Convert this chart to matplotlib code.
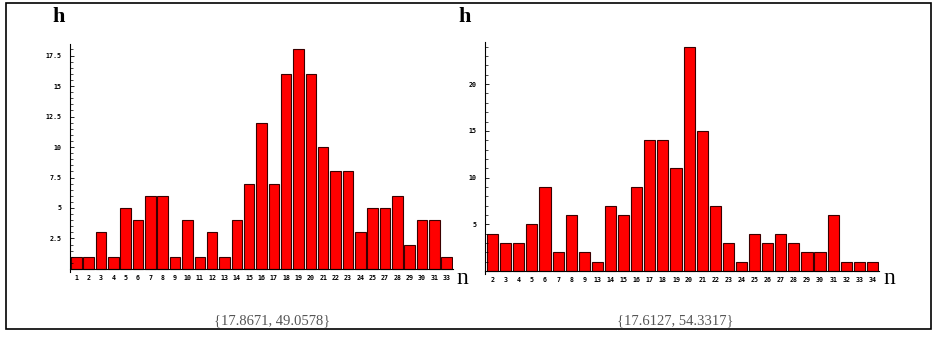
import numpy as np
import matplotlib.pyplot as plt
from matplotlib.ticker import MultipleLocator, FuncFormatter
from matplotlib.patches import Rectangle

# ------------------------------------------------------------
# data
# ------------------------------------------------------------
left_labels = [1, 2, 3, 4, 5, 6, 7, 8, 9, 10, 11, 12, 13, 14, 15, 16, 17,
               18, 19, 20, 21, 22, 23, 24, 25, 27, 28, 29, 30, 31, 33]
left_h = [1, 1, 3, 1, 5, 4, 6, 6, 1, 4, 1, 3, 1, 4, 7, 12, 7,
          16, 18, 16, 10, 8, 8, 3, 5, 5, 6, 2, 4, 4, 1]
left_caption = "{17.8671, 49.0578}"

right_labels = [2, 3, 4, 5, 6, 7, 8, 9, 13, 14, 15, 16, 17, 18, 19, 20, 21,
                22, 23, 24, 25, 26, 27, 28, 29, 30, 31, 32, 33, 34]
right_h = [4, 3, 3, 5, 9, 2, 6, 2, 1, 7, 6, 9, 14, 14, 11, 24, 15,
           7, 3, 1, 4, 3, 4, 3, 2, 2, 6, 1, 1, 1]
right_caption = "{17.6127, 54.3317}"

W, H = 937, 338
fig = plt.figure(figsize=(W / 100, H / 100), dpi=100)


def px(x0, y0, x1, y1):
    # pixel box (top-left origin) -> figure rect
    return [x0 / W, 1 - y1 / H, (x1 - x0) / W, (y1 - y0) / H]


def draw(rect, labels, h, xlim, ylim, major, minor):
    ax = fig.add_axes(rect)
    x = np.arange(len(h))
    ax.bar(x, h, width=0.85, color="#ff0000", edgecolor="#3a0000",
           linewidth=0.8)
    ax.set_xlim(*xlim)
    ax.set_ylim(*ylim)
    for s in ["top", "right"]:
        ax.spines[s].set_visible(False)
    ax.spines["bottom"].set_position(("data", 0))
    ax.spines["left"].set_linewidth(0.8)
    ax.spines["bottom"].set_linewidth(0.8)
    ax.set_xticks(x)
    ax.set_xticklabels([str(v) for v in labels])
    ax.tick_params(axis="x", length=0, pad=4)
    ax.yaxis.set_major_locator(MultipleLocator(major))
    ax.yaxis.set_minor_locator(MultipleLocator(minor))
    ax.yaxis.set_major_formatter(
        FuncFormatter(lambda v, p: "" if v <= 0 else "%g" % v))
    ax.tick_params(axis="y", which="major", direction="in", length=3,
                   width=0.6, pad=6)
    ax.tick_params(axis="y", which="minor", direction="in", length=1.8,
                   width=0.5)
    for t in ax.get_xticklabels() + ax.get_yticklabels():
        t.set_fontfamily("DejaVu Sans Mono")
        t.set_fontsize(4.8)
        t.set_fontweight("bold")
    ax.patch.set_alpha(0)
    return ax


draw(px(70, 44, 453, 272), left_labels, left_h,
     (-0.51, 30.51), (-0.25, 18.45), 2.5, 0.5)
draw(px(485, 42, 879, 274), right_labels, right_h,
     (-0.58, 29.5), (-0.3, 24.5), 5, 1)

serif = "Liberation Serif"
fig.text(59 / W, 1 - 17 / H, "h", ha="center", va="center",
         fontsize=16, fontweight="bold", family=serif)
fig.text(465 / W, 1 - 17 / H, "h", ha="center", va="center",
         fontsize=16, fontweight="bold", family=serif)
fig.text(462 / W, 1 - 279 / H, "n", ha="center", va="center",
         fontsize=17, family=serif)
fig.text(889 / W, 1 - 279 / H, "n", ha="center", va="center",
         fontsize=17, family=serif)
fig.text(272 / W, 1 - 321 / H, left_caption, ha="center", va="center",
         fontsize=10.5, family=serif, color="#555555")
fig.text(675 / W, 1 - 321 / H, right_caption, ha="center", va="center",
         fontsize=10.5, family=serif, color="#555555")

fig.patches.append(Rectangle((6 / W, 1 - 329 / H), 925 / W, 326 / H,
                             transform=fig.transFigure, fill=False,
                             edgecolor="black", linewidth=1.2))

plt.savefig("out.png", dpi=100)
